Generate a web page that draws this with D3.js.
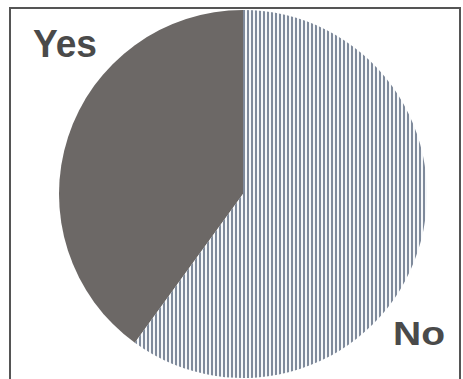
<!DOCTYPE html>
<html><head><meta charset="utf-8">
<script src="https://cdn.jsdelivr.net/npm/d3@7"></script>
<style>body{margin:0;background:#fff}svg{display:block}</style>
</head><body>
<script>
const categories = ["Yes", "No"];
const values = [40, 60];

const W = 463, H = 379;
const svg = d3.select("body").append("svg").attr("width", W).attr("height", H);

const defs = svg.append("defs");
const pat = defs.append("pattern").attr("id", "stripes").attr("patternUnits", "userSpaceOnUse")
  .attr("width", 4).attr("height", 4);
pat.append("rect").attr("width", 4).attr("height", 4).attr("fill", "#f6f8fa");
pat.append("rect").attr("x", 0).attr("width", 2).attr("height", 4).attr("fill", "#7f8a9b");

svg.append("rect").attr("x", 10).attr("y", 8).attr("width", 450).attr("height", 380)
  .attr("fill", "none").attr("stroke", "#555").attr("stroke-width", 2);

const cx = 243, cy = 194, r = 184;
const pie = d3.pie().sort(null).startAngle(-2 * Math.PI * values[0] / 100).endAngle(2 * Math.PI - 2 * Math.PI * values[0] / 100);
const arcs = pie(values);
const arc = d3.arc().innerRadius(0).outerRadius(r);
const color = d3.scaleOrdinal().domain(categories).range(["#6c6866", "url(#stripes)"]);

svg.append("g").attr("transform", `translate(${cx},${cy})`)
  .selectAll("path").data(arcs).join("path")
  .attr("d", arc).attr("fill", (d, i) => color(categories[i]));

svg.append("text").attr("x", 33).attr("y", 57).text(categories[0])
  .attr("font-family", "Liberation Sans, Arial, sans-serif").attr("font-weight", "bold")
  .attr("font-size", 38).attr("fill", "#4a4a4a")
  .attr("textLength", 64).attr("lengthAdjust", "spacingAndGlyphs");
svg.append("text").attr("x", 393).attr("y", 345).text(categories[1])
  .attr("font-family", "Liberation Sans, Arial, sans-serif").attr("font-weight", "bold")
  .attr("font-size", 34).attr("fill", "#4a4a4a")
  .attr("textLength", 52).attr("lengthAdjust", "spacingAndGlyphs");
</script>
</body></html>
